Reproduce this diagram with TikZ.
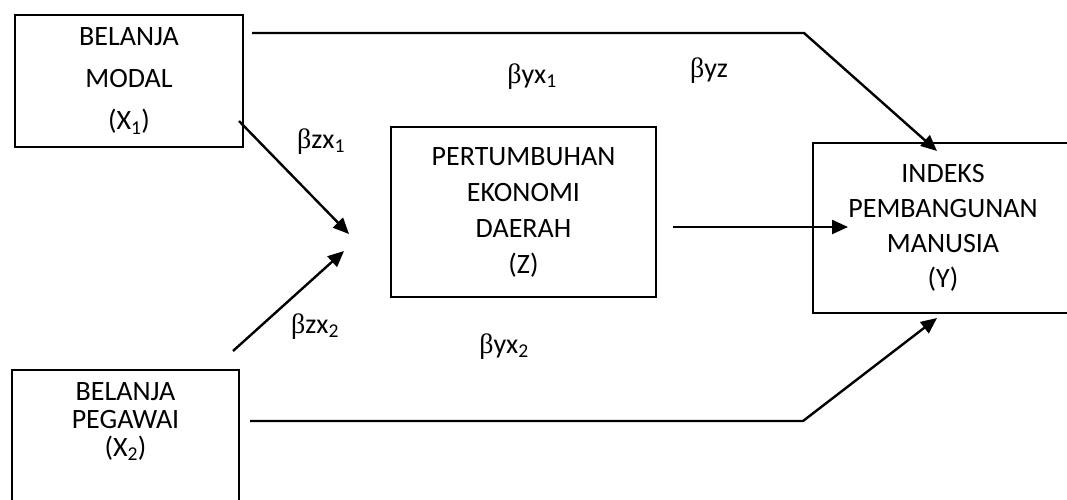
\documentclass[tikz,border=0pt]{standalone}
\usepackage{fontspec}
\setmainfont{Carlito}
\newfontfamily\greekfont{Liberation Serif}
\newcommand{\betasym}{{\greekfont β}}
\usetikzlibrary{arrows.meta}

\begin{document}
\begin{tikzpicture}[
    x=1pt, y=-1pt,
    font=\fontsize{28}{36}\selectfont,
    box/.style={rectangle, draw, line width=1.8pt, align=center, inner sep=0pt},
    coef/.style={anchor=base, inner sep=0pt},
    link/.style={line width=2.4pt},
    >={Triangle[length=16pt, width=14pt]}
  ]
    \useasboundingbox (0,0) rectangle (1067,499);

    % variables
    \node[box, minimum width=228, minimum height=132,
      font=\fontsize{28}{42}\selectfont] (x1) at (129,81) {BELANJA\\MODAL\\(X\textsubscript{1})};
    \node[box, minimum width=227, minimum height=140,
      label={[name=x2text, align=center, anchor=north, inner sep=0pt, yshift=-13pt,
        font=\fontsize{28}{28}\selectfont]north:{BELANJA\\PEGAWAI\\(X\textsubscript{2})}}] (x2) at (125.5,440) {};
    \node[box, minimum width=265, minimum height=170] (z) at (523.5,212) {PERTUMBUHAN\\EKONOMI\\DAERAH\\(Z)};
    \node[box, minimum width=260, minimum height=170,
      font=\fontsize{28}{35}\selectfont] (y) at (943,228) {INDEKS\\PEMBANGUNAN\\MANUSIA\\(Y)};

    % path ends
    \coordinate (x1top) at (252,33);
    \coordinate (bendtop) at (804,33);
    \coordinate (ytop) at (937,151);
    \coordinate (x2bot) at (250,421);
    \coordinate (bendbot) at (803,421);
    \coordinate (ybot) at (937,318);
    \coordinate (x1out) at (239,121);
    \coordinate (zin1) at (349,234);
    \coordinate (x2out) at (233,351);
    \coordinate (zin2) at (344,251);
    \coordinate (zout) at (673,227);
    \coordinate (yin) at (848,227);

    \draw[link, ->] (x1top) -- (bendtop) -- (ytop);
    \draw[link, ->] (x2bot) -- (bendbot) -- (ybot);
    \draw[link, ->] (x1out) -- (zin1);
    \draw[link, ->] (x2out) -- (zin2);
    \draw[link, ->] (zout) -- (yin);

    % coefficients
    \node[coef] (bzx1) at (321,148) {\betasym zx\textsubscript{1}};
    \node[coef] (byx1) at (532,83) {\betasym yx\textsubscript{1}};
    \node[coef] (byz) at (709,77) {\betasym yz};
    \node[coef] (bzx2) at (315,333) {\betasym zx\textsubscript{2}};
    \node[coef] (byx2) at (504,353) {\betasym yx\textsubscript{2}};
  \end{tikzpicture}
\end{document}
